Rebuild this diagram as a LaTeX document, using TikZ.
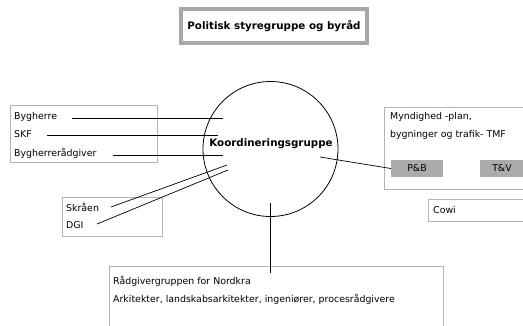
\documentclass[tikz,border=0pt]{standalone}
\usepackage{fontspec}
\setmainfont{DejaVu Sans}
\definecolor{boxgray}{HTML}{B4B4B4}
\definecolor{thickgray}{HTML}{A8A8A8}
\definecolor{fillgray}{HTML}{ABABAB}
\begin{document}
\begin{tikzpicture}[x=1pt,y=-1pt,
  txt/.style={font=\fontsize{9.4}{11}\selectfont, inner sep=0pt, anchor=west},
  btxt/.style={font=\fontsize{10.3}{12}\selectfont\bfseries, inner sep=0pt},
  frame/.style={draw=boxgray, line width=0.8pt},
  conn/.style={draw=black, line width=0.7pt},
  tag/.style={fill=fillgray, minimum width=52pt, minimum height=17pt, inner sep=0pt, font=\fontsize{9.4}{11}\selectfont}]
\useasboundingbox (0,0) rectangle (523,325);
% title
\draw[thickgray, line width=4pt] (181,9) rectangle (367,43);
\node[btxt] (title) at (274,26) {Politisk styregruppe og byråd};
% circle
\draw[line width=0.8pt] (270.5,149) circle (67.5);
\node[btxt] (koord) at (271,144) {Koordineringsgruppe};
% left box
\draw[frame] (10,105) rectangle (157,162);
\node[txt] (byg) at (14,117) {Bygherre};
\node[txt] (skf) at (14,134) {SKF};
\node[txt] (bygr) at (14,153) {Bygherrerådgiver};
\coordinate (s1) at (72,118);
\coordinate (s2) at (47,135);
\coordinate (s3) at (113,155);
\coordinate (c1) at (223,118);
\coordinate (c2) at (218,135);
\coordinate (c3) at (223,155);
\draw[conn] (s1) -- (c1);
\draw[conn] (s2) -- (c2);
\draw[conn] (s3) -- (c3);
% Skraen box
\draw[frame] (62,197) rectangle (162,236);
\node[txt] (skr) at (66,207) {Skråen};
\node[txt] (dgi) at (66,225) {DGI};
\coordinate (s4) at (111,207);
\coordinate (s5) at (97,224);
\coordinate (c4) at (227,165);
\coordinate (c5) at (228,170);
\draw[conn] (s4) -- (c4);
\draw[conn] (s5) -- (c5);
% right box
\draw[frame] (530,107) -- (384,107) -- (384,189) -- (530,189);
\node[txt] (myn) at (390,117) {Myndighed -plan,};
\node[txt] (bygn) at (390,135) {bygninger og trafik- TMF};
\node[tag] (pb) at (417,168.5) {P\&B};
\node[tag, minimum width=44pt] (tv) at (502,168.5) {T\&V};
\coordinate (c6) at (320,157);
\draw[conn] (c6) -- (pb.west);
% Cowi
\draw[frame] (530,199) -- (428,199) -- (428,221) -- (530,221);
\node[txt] (cowi) at (433,210) {Cowi};
% bottom box
\draw[frame] (109,330) -- (109,266) -- (443,266) -- (443,330);
\node[txt] (raad) at (113,281) {Rådgivergruppen for Nordkra};
\node[txt] (ark) at (113,299) {Arkitekter, landskabsarkitekter, ingeniører, procesrådgivere};
\coordinate (c7) at (270,203);
\coordinate (c8) at (270,273);
\draw[conn] (c7) -- (c8);
\end{tikzpicture}
\end{document}
